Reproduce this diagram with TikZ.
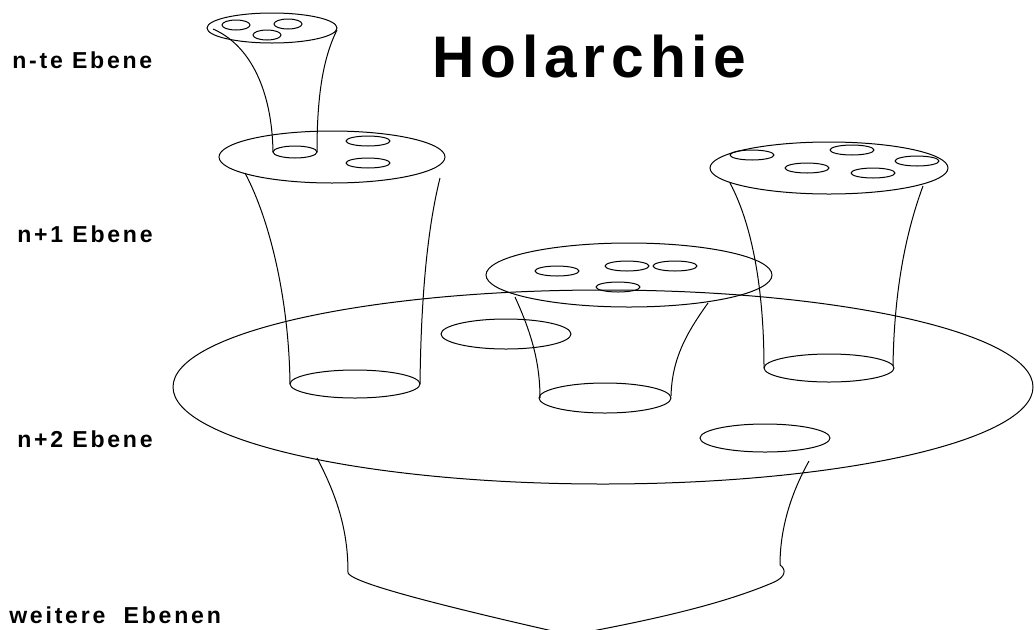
\documentclass[tikz,border=0pt]{standalone}
\usepackage{fontspec}
\setmainfont{Liberation Sans}
\newfontfamily\titlefont[LetterSpace=10]{Liberation Sans Bold}
\newfontfamily\labelfont[LetterSpace=12]{Liberation Sans Bold}
\begin{document}
\begin{tikzpicture}[x=0.75pt,y=-0.75pt,
  edge/.style={line width=0.75pt, black},
  lvl/.style={font=\labelfont\fontsize{17.3pt}{19pt}\selectfont, anchor=base west, inner sep=0pt},
  ttl/.style={font=\titlefont\fontsize{44pt}{48pt}\selectfont, anchor=base west, inner sep=0pt}]
\useasboundingbox (0,0) rectangle (1034,629);

% ---- bottom funnel (further levels)
\draw[edge] (317,458) .. controls (342,505) and (348,540) .. (348,573)
  .. controls (352,580) and (390,594) .. (557,632);
\draw[edge] (809,461) .. controls (790,495) and (780,530) .. (780,565)
  .. controls (786,569) and (787,577) .. (772,583)
  .. controls (720,605) and (650,620) .. (587,632);

% ---- big disc (n+2)
\draw[edge] (603,387) ellipse [x radius=430, y radius=97];
\draw[edge] (506,334) ellipse [x radius=65, y radius=15];
\draw[edge] (765,438) ellipse [x radius=65, y radius=14];

% ---- left funnel (n+1)
\draw[edge] (332,157) ellipse [x radius=113, y radius=26];
\draw[edge] (368,141) ellipse [x radius=22, y radius=5];
\draw[edge] (368,163) ellipse [x radius=22, y radius=5];
\draw[edge] (245,173) .. controls (270,220) and (289,300) .. (290,384);
\draw[edge] (440,178) .. controls (427,230) and (421,300) .. (420,384);
\draw[edge] (355,384) ellipse [x radius=65, y radius=14];

% ---- top funnel (n-te)
\draw[edge] (272,28) ellipse [x radius=65, y radius=15];
\draw[edge] (236,25) ellipse [x radius=14, y radius=5];
\draw[edge] (288,24) ellipse [x radius=14, y radius=5];
\draw[edge] (267,35) ellipse [x radius=14, y radius=5];
\draw[edge] (213,29) .. controls (250,45) and (272,90) .. (273,152);
\draw[edge] (337,30) .. controls (322,60) and (317,100) .. (317,152);
\draw[edge] (295,152) ellipse [x radius=22, y radius=6];

% ---- middle funnel
\draw[edge] (629,275) ellipse [x radius=143, y radius=32];
\draw[edge] (557,271) ellipse [x radius=22, y radius=5];
\draw[edge] (627,266) ellipse [x radius=22, y radius=5];
\draw[edge] (675,266) ellipse [x radius=22, y radius=5];
\draw[edge] (618,287) ellipse [x radius=22, y radius=5];
\draw[edge] (515,297) .. controls (530,330) and (540,360) .. (540,398);
\draw[edge] (708,303) .. controls (685,335) and (672,360) .. (671,396);
\draw[edge] (605,398) ellipse [x radius=66, y radius=15];

% ---- right funnel
\draw[edge] (829,168) ellipse [x radius=119, y radius=26];
\draw[edge] (752,155) ellipse [x radius=22, y radius=5];
\draw[edge] (807,168) ellipse [x radius=22, y radius=5];
\draw[edge] (852,150) ellipse [x radius=22, y radius=5];
\draw[edge] (873,173) ellipse [x radius=22, y radius=5];
\draw[edge] (917,161) ellipse [x radius=22, y radius=5];
\draw[edge] (730,183) .. controls (755,230) and (764,300) .. (764,368);
\draw[edge] (923,186) .. controls (903,240) and (894,300) .. (893,366);
\draw[edge] (829,368) ellipse [x radius=65, y radius=14];

% ---- texts
\node[ttl] (title) at (432,77) {Holarchie};
\node[lvl] (l0) at (12,68) {n-te Ebene};
\node[lvl] (l1) at (17,242) {n+1 Ebene};
\node[lvl] (l2) at (17,447) {n+2 Ebene};
\node[lvl] (l3) at (9,623) {weitere\ \ Ebenen};
\end{tikzpicture}
\end{document}
